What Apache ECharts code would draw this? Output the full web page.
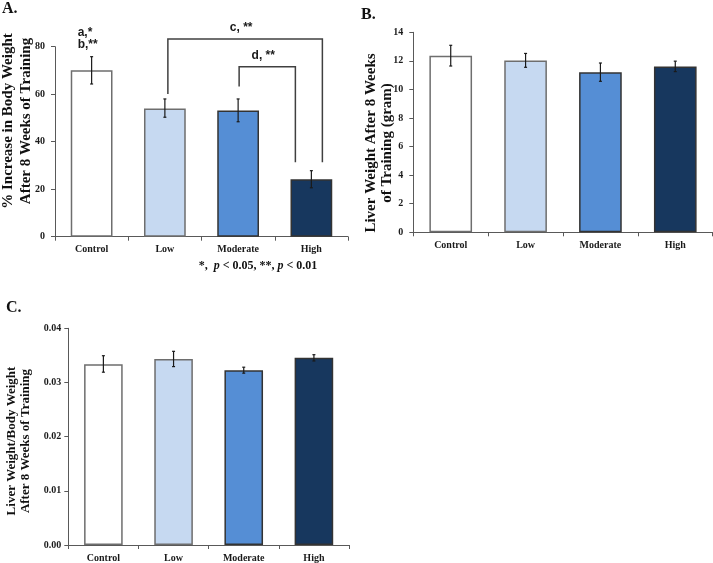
<!DOCTYPE html>
<html><head><meta charset="utf-8">
<script src="https://cdn.jsdelivr.net/npm/echarts@6/dist/echarts.min.js"></script>
<style>html,body{margin:0;padding:0;background:#fff}#c{width:713px;height:563px}</style>
</head><body><div id="c"></div>
<script>
// ---------- data ----------
const categories = ['Control', 'Low', 'Moderate', 'High'];
const barColors = ['#ffffff', '#c6d9f1', '#558ed5', '#17375e'];

const gainMean = [70.1, 54.0, 53.1, 24.2];
const gainLow  = [64.3, 50.3, 48.4, 20.6];
const gainHigh = [75.8, 58.0, 58.0, 27.8];

const liverMean = [12.35, 12.02, 11.21, 11.60];
const liverLow  = [11.64, 11.55, 10.57, 11.25];
const liverHigh = [13.09, 12.52, 11.85, 11.98];

const ratioMean = [0.03337, 0.03434, 0.03227, 0.03458];
const ratioLow  = [0.03190, 0.03293, 0.03172, 0.03397];
const ratioHigh = [0.03494, 0.03575, 0.03282, 0.03513];

// brackets in panel A: [fromCategory, toCategory, topValue, leftLegEnd, rightLegEnd, label]
const brackets = [
  ['Low', 'High', 83.2, 60.1, 31.3, 'c, **'],
  ['Moderate', 'High', 71.6, 63.2, 31.3, 'd, **']
];
const controlNotes = [['Control', 85.8, 'a,*'], ['Control', 80.7, 'b,**']];

// ---------- helpers ----------
const serif = '"Liberation Serif", "Times New Roman", serif';
const sans = '"Liberation Sans", Arial, sans-serif';
const axisCol = '#595959';

function xAx(gi) {
  return {
    gridIndex: gi, type: 'category', data: categories,
    axisLine: {lineStyle: {color: axisCol, width: 1}},
    axisTick: {show: true, length: 4, lineStyle: {color: axisCol}},
    axisLabel: {fontFamily: serif, fontWeight: 'bold', fontSize: 10, color: '#1a1a1a', margin: 8}
  };
}
function yAx(gi, max, interval, fmt, margin) {
  return {
    gridIndex: gi, type: 'value', min: 0, max: max, interval: interval,
    splitLine: {show: false},
    axisLine: {show: true, lineStyle: {color: axisCol, width: 1}},
    axisTick: {show: true, length: 4, lineStyle: {color: axisCol}},
    axisLabel: {fontFamily: serif, fontWeight: 'bold', fontSize: 10, color: '#1a1a1a', margin: margin, formatter: fmt}
  };
}
function barSeries(gi, vals, width) {
  return {
    type: 'bar', xAxisIndex: gi, yAxisIndex: gi, barWidth: width,
    data: vals.map((v, i) => ({
      value: v,
      itemStyle: {color: barColors[i], borderColor: i < 2 ? '#6e6e6e' : '#333333', borderWidth: 1.5}
    })),
    silent: true
  };
}
function errSeries(gi, lo, hi) {
  return {
    type: 'custom', xAxisIndex: gi, yAxisIndex: gi, clip: false, silent: true, z: 5,
    data: categories.map((c, i) => [i, lo[i], hi[i]]),
    renderItem: function (params, api) {
      const a = api.coord([api.value(0), api.value(1)]);
      const b = api.coord([api.value(0), api.value(2)]);
      const st = {stroke: '#1a1a1a', lineWidth: 1.2};
      return {type: 'group', children: [
        {type: 'line', shape: {x1: a[0], y1: a[1], x2: b[0], y2: b[1]}, style: st},
        {type: 'line', shape: {x1: a[0] - 1.5, y1: a[1], x2: a[0] + 1.5, y2: a[1]}, style: st},
        {type: 'line', shape: {x1: b[0] - 1.5, y1: b[1], x2: b[0] + 1.5, y2: b[1]}, style: st}
      ]};
    }
  };
}

const bracketOffsets = [[3, 11], [1, -16]];

const option = {
  animation: false,
  grid: [
    {left: 55, top: 46.7, width: 293, height: 190},
    {left: 413.3, top: 32.3, width: 299.4, height: 200},
    {left: 68.3, top: 328.3, width: 280.7, height: 218.4}
  ],
  xAxis: [xAx(0), xAx(1), xAx(2)],
  yAxis: [
    yAx(0, 80, 20, null, 10),
    yAx(1, 14, 2, null, 10),
    yAx(2, 0.04, 0.01, v => v.toFixed(2), 7)
  ],
  series: [
    barSeries(0, gainMean, '57%'),
    barSeries(1, liverMean, '57%'),
    barSeries(2, ratioMean, '55%'),
    errSeries(0, gainLow, gainHigh),
    errSeries(1, liverLow, liverHigh),
    errSeries(2, ratioLow, ratioHigh),
    {
      type: 'custom', xAxisIndex: 0, yAxisIndex: 0, clip: false, silent: true, z: 6,
      data: brackets.map(b => [categories.indexOf(b[0]), categories.indexOf(b[1]), b[2], b[3], b[4], b[5]]),
      renderItem: function (params, api) {
        const off = bracketOffsets[params.dataIndex];
        const top = api.coord([api.value(0), api.value(2)]);
        const l = api.coord([api.value(0), api.value(3)]);
        const r = api.coord([api.value(1), api.value(4)]);
        const xl = top[0] + off[0];
        const xr = r[0] + off[1];
        const st = {stroke: '#404040', lineWidth: 1.5, fill: null};
        return {type: 'group', children: [
          {type: 'polyline', shape: {points: [[xl, l[1]], [xl, top[1]], [xr, top[1]], [xr, r[1]]]}, style: st},
          {type: 'text', x: (xl + xr) / 2 - 4, y: top[1] - 5,
           style: {text: api.value(5), font: 'bold 12px ' + sans, fill: '#1a1a1a', align: 'center', verticalAlign: 'bottom'}}
        ]};
      }
    },
    {
      type: 'custom', xAxisIndex: 0, yAxisIndex: 0, clip: false, silent: true, z: 6,
      data: controlNotes.map(n => [categories.indexOf(n[0]), n[1], n[2]]),
      renderItem: function (params, api) {
        const p = api.coord([api.value(0), api.value(1)]);
        return {type: 'text', x: p[0] - 14, y: p[1],
          style: {text: api.value(2), font: 'bold 12px ' + sans, fill: '#1a1a1a', align: 'left', verticalAlign: 'middle'}};
      }
    }
  ],
  graphic: [
    {type: 'text', left: 2, top: 1, style: {text: 'A.', font: 'bold 16px ' + serif, fill: '#111'}},
    {type: 'text', left: 361, top: 7, style: {text: 'B.', font: 'bold 16px ' + serif, fill: '#111'}},
    {type: 'text', left: 6, top: 300, style: {text: 'C.', font: 'bold 16px ' + serif, fill: '#111'}},
    {type: 'text', x: 17, y: 121, rotation: Math.PI / 2,
     style: {text: '% Increase in Body Weight\nAfter 8 Weeks of Training', font: 'bold 15px ' + serif, lineHeight: 18, fill: '#111', align: 'center', verticalAlign: 'middle'}},
    {type: 'text', x: 379, y: 143, rotation: Math.PI / 2,
     style: {text: 'Liver Weight After 8 Weeks\nof Training (gram)', font: 'bold 15px ' + serif, lineHeight: 16, fill: '#111', align: 'center', verticalAlign: 'middle'}},
    {type: 'text', x: 19, y: 441, rotation: Math.PI / 2,
     style: {text: 'Liver Weight/Body Weight\nAfter 8 Weeks of Training', font: 'bold 13px ' + serif, lineHeight: 14, fill: '#111', align: 'center', verticalAlign: 'middle'}},
    {type: 'text', x: 258, y: 266,
     style: {text: '{n|*,  }{i|p}{n| < 0.05, **, }{i|p}{n| < 0.01}', align: 'center', verticalAlign: 'middle',
       rich: {n: {fontFamily: serif, fontWeight: 'bold', fontSize: 12, fill: '#111', color: '#111'},
              i: {fontFamily: serif, fontWeight: 'bold', fontStyle: 'italic', fontSize: 12, fill: '#111', color: '#111'}}}}
  ]
};
const chart = echarts.init(document.getElementById('c'), null, {renderer: 'canvas'});
chart.setOption(option);
</script>
</body></html>
